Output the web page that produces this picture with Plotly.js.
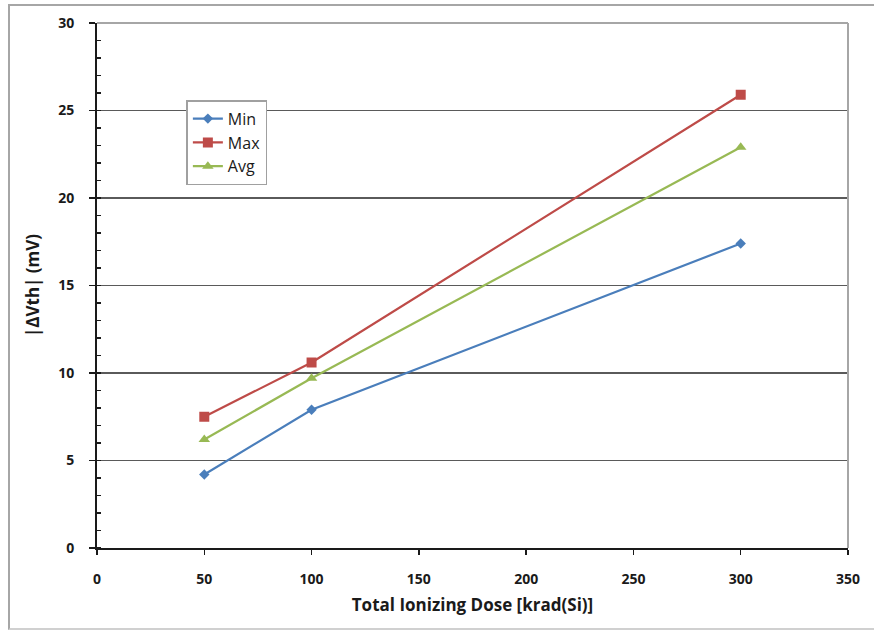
<!DOCTYPE html>
<html>
<head>
<meta charset="utf-8">
<script src="https://cdn.plot.ly/plotly-3.0.1.min.js"></script>
<style>
html,body{margin:0;padding:0;background:#fff;}
#frame{position:absolute;left:0;top:0;width:874px;height:633px;}
#border{position:absolute;left:8px;top:4px;width:880px;height:626px;border-left:2px solid #a6a6a6;border-top:2px solid #a6a6a6;border-bottom:2px solid #d0d0d0;box-sizing:border-box;pointer-events:none;}
#chart{position:absolute;left:0;top:0;width:874px;height:633px;}
</style>
</head>
<body>
<div id="frame"><div id="chart"></div><div id="border"></div></div>
<script>
const doses = [50, 100, 300];
const minVals = [4.2, 7.9, 17.4];
const maxVals = [7.5, 10.6, 25.9];
const avgVals = [6.2, 9.7, 22.9];
const seriesNames = ["Min", "Max", "Avg"];

const fontFam = '"Open Sans", Arial, sans-serif';

const traces = [
  {x: doses, y: minVals, name: seriesNames[0], mode: 'lines+markers',
   line: {color: '#4a7ebb', width: 2.2}, marker: {symbol: 'diamond', size: 8, color: '#4a7ebb'}},
  {x: doses, y: maxVals, name: seriesNames[1], mode: 'lines+markers',
   line: {color: '#be4b48', width: 2.2}, marker: {symbol: 'square', size: 10, color: '#be4b48'}},
  {x: doses, y: avgVals, name: seriesNames[2], mode: 'lines+markers',
   line: {color: '#98b954', width: 2.2}, marker: {symbol: 'triangle-up', size: 10, color: '#98b954'}}
];

const layout = {
  width: 874, height: 633,
  margin: {l: 97, r: 26, t: 23, b: 85},
  paper_bgcolor: 'rgba(0,0,0,0)',
  plot_bgcolor: '#fff',
  font: {family: fontFam, size: 14, color: '#1a1a1a'},
  showlegend: true,
  legend: {
    x: 0.119, y: 0.853, xanchor: 'left', yanchor: 'top',
    bgcolor: '#fff', bordercolor: '#a0a0a0', borderwidth: 1.5,
    font: {family: fontFam, size: 16, color: '#1a1a1a'},
    itemwidth: 30, tracegroupgap: 0
  },
  xaxis: {
    range: [0, 350], dtick: 50, tick0: 0,
    showgrid: false, zeroline: false,
    showline: true, linecolor: '#1a1a1a', linewidth: 2,
    mirror: false,
    ticks: 'outside', ticklen: 5, tickwidth: 1.5, tickcolor: '#1a1a1a',
    ticklabelstandoff: 12,
    tickfont: {family: fontFam, size: 14, color: '#1a1a1a', weight: 700},
    title: {text: '<b>Total Ionizing Dose [krad(Si)]</b>', font: {family: fontFam, size: 17, color: '#1a1a1a'}, standoff: 12}
  },
  yaxis: {
    range: [0, 30], dtick: 5, tick0: 0,
    showgrid: true, gridcolor: '#5a5a5a', gridwidth: 1.6,
    zeroline: false,
    showline: true, linecolor: '#1a1a1a', linewidth: 2,
    ticks: 'outside', ticklen: 6, tickwidth: 1.5, tickcolor: '#1a1a1a',
    ticklabelstandoff: 12,
    minor: {dtick: 1, ticks: 'inside', ticklen: 4, tickcolor: '#1a1a1a', tickwidth: 1.5, showgrid: false},
    tickfont: {family: fontFam, size: 14, color: '#1a1a1a', weight: 700},
    title: {text: '<b>|ΔVth| (mV)</b>', font: {family: fontFam, size: 17, color: '#1a1a1a'}, standoff: 14}
  },
  shapes: [
    {type: 'line', xref: 'paper', yref: 'paper', x0: 0, x1: 1, y0: 1, y1: 1, line: {color: '#a6a6a6', width: 2}},
    {type: 'line', xref: 'paper', yref: 'paper', x0: 1, x1: 1, y0: 0, y1: 1, line: {color: '#a6a6a6', width: 2}}
  ]
};

Plotly.newPlot('chart', traces, layout, {displayModeBar: false, staticPlot: true});
</script>
</body>
</html>
